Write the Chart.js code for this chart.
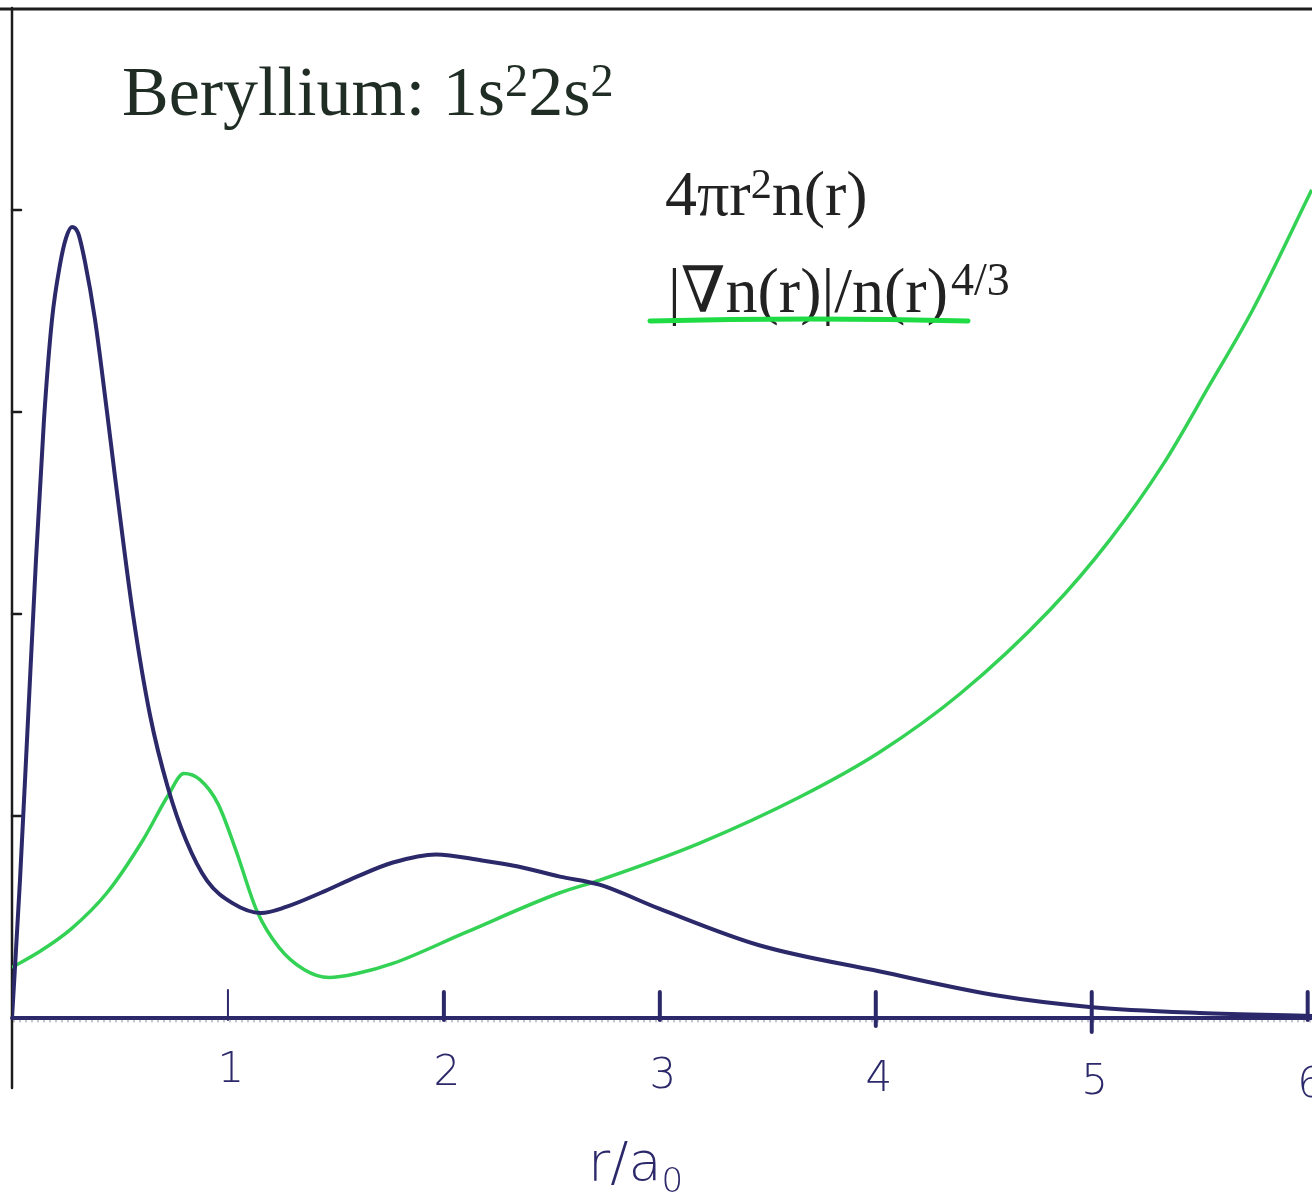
<!DOCTYPE html>
<html>
<head>
<meta charset="utf-8">
<script src="https://cdn.jsdelivr.net/npm/chart.js@4.4.1/dist/chart.umd.min.js"></script>
<style>
  html, body { margin: 0; padding: 0; background: #ffffff; }
  #wrap { width: 1312px; height: 1199px; position: relative; }
  canvas { display: block; }
</style>
</head>
<body>
<div id="wrap"><canvas id="chart" width="1312" height="1199"></canvas></div>
<script>
// Radial electron density 4πr²n(r) for beryllium (r in units of a0)
const densityR   = [0, 0.037, 0.074, 0.111, 0.148, 0.185, 0.222, 0.25, 0.278, 0.306, 0.338, 0.384, 0.44, 0.477, 0.56, 0.639, 0.722, 0.806, 0.903, 1.019, 1.153, 1.269, 1.431, 1.597, 1.764, 1.963, 2.176, 2.343, 2.537, 2.72, 3.0, 3.46, 4.02, 4.57, 4.99, 5.5, 6.02];
const densityVal = [0, 0.683, 1.475, 2.267, 2.96, 3.455, 3.728, 3.861, 3.916, 3.886, 3.743, 3.46, 3.0, 2.68, 2.0, 1.50, 1.14, 0.88, 0.68, 0.57, 0.52, 0.55, 0.62, 0.70, 0.77, 0.81, 0.78, 0.75, 0.70, 0.66, 0.54, 0.36, 0.23, 0.11, 0.055, 0.025, 0.01];

// Reduced density gradient |∇n(r)|/n(r)^{4/3}
const gradR   = [0, 0.13, 0.273, 0.44, 0.606, 0.722, 0.796, 0.87, 0.954, 1.037, 1.134, 1.236, 1.352, 1.468, 1.597, 1.764, 2.093, 2.537, 2.722, 3.185, 3.648, 4.019, 4.389, 4.806, 5.083, 5.329, 5.546, 5.745, 6.019];
const gradVal = [0.25, 0.33, 0.44, 0.62, 0.88, 1.10, 1.21, 1.18, 1.06, 0.83, 0.53, 0.35, 0.24, 0.20, 0.22, 0.27, 0.42, 0.62, 0.683, 0.866, 1.094, 1.317, 1.604, 2.02, 2.366, 2.738, 3.134, 3.505, 4.10];

// Axis ticks
const xTickValues = [1, 2, 3, 4, 5, 6];
const xTickLabels = ['1', '2', '3', '4', '5', '6'];
const yTickValues = [1, 2, 3, 4];

const toPoints = (xs, ys) => xs.map((x, i) => ({ x: x, y: ys[i] }));

const INK = '#2c296a';
const GREEN = '#33d255';

// Frame, axes and hand-drawn style tick marks
const axesPlugin = {
  id: 'handAxes',
  beforeDatasetsDraw(chart) {
    const { ctx, chartArea, scales } = chart;
    const xs = scales.x, ys = scales.y;
    const y0 = ys.getPixelForValue(0);
    const x0 = xs.getPixelForValue(0);
    ctx.save();
    ctx.lineCap = 'round';
    // top border
    ctx.strokeStyle = '#1c1c1c';
    ctx.lineWidth = 3;
    ctx.beginPath();
    ctx.moveTo(0, chartArea.top + 1);
    ctx.lineTo(chart.width, chartArea.top + 1);
    ctx.stroke();
    // left axis
    ctx.lineWidth = 2.5;
    ctx.beginPath();
    ctx.moveTo(x0, chartArea.top);
    ctx.lineTo(x0, y0 + 70);
    ctx.stroke();
    // y ticks
    yTickValues.forEach(v => {
      const py = ys.getPixelForValue(v);
      ctx.beginPath();
      ctx.moveTo(x0, py);
      ctx.lineTo(x0 + 9, py);
      ctx.stroke();
    });
    // x axis
    ctx.strokeStyle = INK;
    ctx.lineWidth = 4;
    ctx.beginPath();
    ctx.moveTo(x0, y0);
    ctx.lineTo(chartArea.right, y0);
    ctx.stroke();
    // fine ruler texture on the x axis
    ctx.strokeStyle = 'rgba(60,60,110,0.6)';
    ctx.lineWidth = 1;
    for (let px = x0 + 2; px < chartArea.right; px += 6) {
      ctx.beginPath();
      ctx.moveTo(px, y0 + 1);
      ctx.lineTo(px, y0 + 4);
      ctx.stroke();
    }
    // x ticks
    ctx.strokeStyle = INK;
    xTickValues.forEach(v => {
      const px = xs.getPixelForValue(v);
      ctx.lineWidth = v === 1 ? 2 : 4;
      ctx.beginPath();
      ctx.moveTo(px, y0 - (v === 1 ? 28 : 26));
      ctx.lineTo(px, y0 + (v === 4 ? 8 : (v === 5 ? 14 : 2)));
      ctx.stroke();
    });
    ctx.restore();
  },
  afterDatasetsDraw(chart) {
    const { ctx, scales } = chart;
    const xs = scales.x, ys = scales.y;
    const y0 = ys.getPixelForValue(0);
    ctx.save();
    // tick labels
    ctx.fillStyle = INK;
    ctx.font = '300 42px "DejaVu Sans"';
    ctx.textAlign = 'center';
    ctx.textBaseline = 'alphabetic';
    xTickValues.forEach((v, i) => {
      const px = xs.getPixelForValue(v) + 3;
      ctx.fillText(xTickLabels[i], px, y0 + 64 + i * 3);
    });
    // axis title r/a0
    ctx.font = '300 54px "DejaVu Sans"';
    ctx.textAlign = 'left';
    ctx.fillText('r/a', 588, 1180);
    const wA = ctx.measureText('r/a').width;
    ctx.font = '300 34px "DejaVu Sans"';
    ctx.fillText('0', 588 + wA, 1192);

    // text runs with superscripts
    const serif = '"Liberation Serif", "Times New Roman", serif';
    const drawRich = (parts, x, y, size, color, supScale) => {
      ctx.fillStyle = color;
      ctx.textAlign = 'left';
      let cx = x;
      parts.forEach(p => {
        const s = p.sup ? size * supScale : size;
        ctx.font = s + 'px ' + (p.font || serif);
        ctx.fillText(p.t, cx, p.sup ? y - size * 0.27 : y);
        cx += ctx.measureText(p.t).width + (p.gap || 0);
      });
      return cx;
    };
    drawRich([{ t: 'Beryllium: 1s' }, { t: '2', sup: true }, { t: '2s' }, { t: '2', sup: true }], 122, 115, 70, '#1f2d25', 0.66);
    drawRich([{ t: '4\u03c0r' }, { t: '2', sup: true }, { t: 'n(r)' }], 665, 215, 64, '#222222', 0.66);
    drawRich([{ t: '|' }, { t: '\u2207', font: '"DejaVu Serif", serif' }, { t: 'n(r)|/n(r)', gap: 3 }, { t: '4/3', sup: true }], 668, 312, 64, '#222222', 0.72);

    // green underline marking the gradient curve
    ctx.strokeStyle = '#1fdc45';
    ctx.lineWidth = 5;
    ctx.lineCap = 'round';
    ctx.beginPath();
    ctx.moveTo(650, 321);
    ctx.quadraticCurveTo(810, 317, 968, 321);
    ctx.stroke();
    ctx.restore();
  }
};

new Chart(document.getElementById('chart'), {
  type: 'scatter',
  data: {
    datasets: [
      {
        label: '4\u03c0r\u00b2n(r)',
        data: toPoints(densityR, densityVal),
        showLine: true,
        borderColor: INK,
        borderWidth: 4,
        pointRadius: 0,
        cubicInterpolationMode: 'monotone',
        order: 1
      },
      {
        label: '|\u2207n(r)|/n(r)^{4/3}',
        data: toPoints(gradR, gradVal),
        showLine: true,
        borderColor: GREEN,
        borderWidth: 3.5,
        pointRadius: 0,
        cubicInterpolationMode: 'monotone',
        order: 2
      }
    ]
  },
  options: {
    responsive: false,
    animation: false,
    devicePixelRatio: 1,
    layout: { padding: { left: 12, top: 8, right: 0, bottom: 181 } },
    plugins: { legend: { display: false }, tooltip: { enabled: false }, title: { display: false } },
    scales: {
      x: { type: 'linear', min: 0, max: 6.02, display: false },
      y: { type: 'linear', min: 0, max: 5, display: false }
    }
  },
  plugins: [axesPlugin]
});
</script>
</body>
</html>
